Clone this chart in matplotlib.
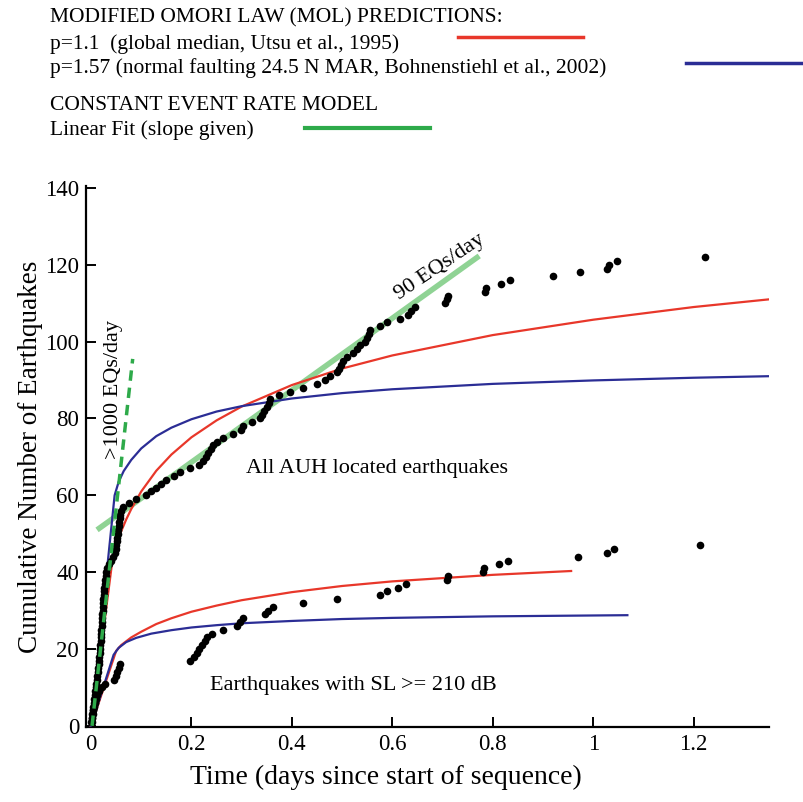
import matplotlib
matplotlib.use("Agg")
import matplotlib.pyplot as plt
from matplotlib.lines import Line2D

plt.rcParams['font.family'] = ['Liberation Serif', 'DejaVu Serif']

# ---------------- data ----------------
# All AUH located earthquakes: time (days) of each cumulative event
all_times = [0.0005, 0.001, 0.002, 0.003, 0.004, 0.005, 0.006, 0.007, 0.008, 0.009,
             0.010, 0.011, 0.012, 0.013, 0.014, 0.015, 0.016, 0.016, 0.017, 0.018,
             0.018, 0.019, 0.019, 0.020, 0.020, 0.021, 0.021, 0.022, 0.022, 0.023,
             0.023, 0.024, 0.024, 0.025, 0.025, 0.026, 0.027, 0.028, 0.029, 0.030,
             0.032, 0.036, 0.040, 0.044, 0.047, 0.049, 0.050, 0.051, 0.052, 0.053,
             0.054, 0.055, 0.056, 0.057, 0.058, 0.060, 0.064,
             0.075, 0.090, 0.110, 0.120, 0.130, 0.140, 0.150, 0.165, 0.177, 0.197,
             0.215, 0.222, 0.228, 0.232, 0.238, 0.242, 0.250, 0.263, 0.283, 0.298,
             0.303, 0.320, 0.337, 0.340, 0.345, 0.350, 0.354, 0.357, 0.375, 0.396,
             0.422, 0.450, 0.465, 0.476, 0.490, 0.493, 0.498, 0.502, 0.510, 0.522,
             0.530, 0.536, 0.545, 0.550, 0.553, 0.556, 0.575, 0.590, 0.616, 0.632,
             0.638, 0.645, 0.705, 0.708, 0.711, 0.785, 0.787, 0.817, 0.835, 0.920,
             0.974, 1.028, 1.031, 1.048, 1.223]
all_counts = list(range(1, len(all_times) + 1))

# Earthquakes with SL >= 210 dB
sl_times = [0.001, 0.002, 0.003, 0.004, 0.006, 0.008, 0.010, 0.012, 0.015, 0.022,
            0.028, 0.045, 0.049, 0.052, 0.055, 0.058,
            0.197, 0.205, 0.211, 0.216, 0.221, 0.226, 0.231, 0.241, 0.263, 0.291,
            0.297, 0.303, 0.347, 0.353, 0.363, 0.422, 0.490, 0.576, 0.590, 0.612,
            0.627, 0.709, 0.710, 0.781, 0.782, 0.813, 0.831, 0.970, 1.028, 1.042,
            1.213]
sl_counts = list(range(1, len(sl_times) + 1))

# Modified Omori law predictions
red_all_t = [0, 0.044, 0.05, 0.06, 0.07, 0.08, 0.1, 0.13, 0.16, 0.2, 0.25, 0.3,
             0.4, 0.5, 0.6, 0.8, 1.0, 1.2, 1.35]
red_all_n = [0, 44.5, 47.0, 50.6, 53.7, 56.4, 61.0, 66.4, 70.6, 75.1, 79.5, 83.1,
             88.7, 93.0, 96.4, 101.7, 105.7, 109.0, 111.0]
blue_all_t = [0, 0.047, 0.055, 0.065, 0.08, 0.1, 0.13, 0.16, 0.2, 0.25, 0.3,
              0.4, 0.5, 0.6, 0.8, 1.0, 1.2, 1.35]
blue_all_n = [0, 60.0, 63.5, 66.3, 69.2, 72.2, 75.4, 77.6, 79.8, 81.8, 83.2,
              85.2, 86.6, 87.6, 89.0, 89.9, 90.6, 91.0]
red_sl_t = [0, 0.05, 0.06, 0.08, 0.1, 0.13, 0.16, 0.2, 0.25, 0.3, 0.4, 0.5,
            0.6, 0.8, 0.956]
red_sl_n = [0, 19.5, 21.0, 23.0, 24.5, 26.5, 28.0, 29.7, 31.3, 32.7, 34.8, 36.4,
            37.6, 39.3, 40.3]
blue_sl_t = [0, 0.045, 0.055, 0.07, 0.09, 0.12, 0.16, 0.2, 0.25, 0.3, 0.4, 0.5,
             0.6, 0.8, 1.068]
blue_sl_n = [0, 18.5, 20.3, 21.8, 22.9, 24.0, 24.9, 25.6, 26.2, 26.7, 27.3, 27.8,
             28.1, 28.5, 28.8]

# Constant event rate fits
fit90_t = [0.012, 0.773]
fit90_n = [51, 122.3]
fit1000_t = [0.002, 0.083]
fit1000_n = [0, 95.5]

xticks = [0, 0.2, 0.4, 0.6, 0.8, 1, 1.2]
xticklabels = ['0', '0.2', '0.4', '0.6', '0.8', '1', '1.2']
yticks = [0, 20, 40, 60, 80, 100, 120, 140]

RED = '#e8372a'
BLUE = '#2b2d95'
GREEN_LIGHT = '#8fd394'
GREEN_DARK = '#2eaa4a'

# ---------------- figure ----------------
W, H = 804, 802
fig = plt.figure(figsize=(W / 100, H / 100), dpi=100)
ax = fig.add_axes([86 / W, 1 - 727 / H, (769 - 86) / W, (727 - 186) / H])

ax.plot(fit90_t, fit90_n, color=GREEN_LIGHT, lw=4, solid_capstyle='butt', zorder=2)
ax.plot(fit1000_t, fit1000_n, color=GREEN_DARK, lw=2.5, ls=(0, (3, 2)), zorder=4)

ax.plot(red_all_t, red_all_n, color=RED, lw=1.6, zorder=3)
ax.plot(blue_all_t, blue_all_n, color=BLUE, lw=1.6, zorder=3)
ax.plot(red_sl_t, red_sl_n, color=RED, lw=1.6, zorder=3)
ax.plot(blue_sl_t, blue_sl_n, color=BLUE, lw=1.6, zorder=3)

ax.plot(all_times, all_counts, 'o', color='black', ms=5.5, mec='none', zorder=3.5)
ax.plot(sl_times, sl_counts, 'o', color='black', ms=5.5, mec='none', zorder=3.5)

ax.set_xlim(-0.01, 1.35)
ax.set_ylim(-0.3, 140.5)
ax.set_xticks(xticks)
ax.set_xticklabels(xticklabels)
ax.set_yticks(yticks)
for s in ['top', 'right']:
    ax.spines[s].set_visible(False)
for s in ['left', 'bottom']:
    ax.spines[s].set_linewidth(1.6)
ax.tick_params(direction='in', length=7, width=1.4, labelsize=16.5, pad=5)
ax.set_xlabel('Time (days since start of sequence)', fontsize=20)
ax.set_ylabel('Cumulative Number of Earthquakes', fontsize=19.5)
# label centres in axes coordinates (reference: x-label centred at px 386, y-label at px ~32)
ax.xaxis.set_label_coords((386 - 86) / (769 - 86), -(777 - 727) / (727 - 186))
ax.yaxis.set_label_coords(-(86 - 31) / (769 - 86), 0.5)
ax.xaxis.label.set_va('center')
ax.yaxis.label.set_va('center')

ax.text(0.309, 67, 'All AUH located earthquakes', fontsize=16, va='center', ha='left')
ax.text(0.237, 10.4, 'Earthquakes with SL >= 210 dB', fontsize=16, va='center', ha='left')
ax.text(0.695, 119.5, '90 EQs/day', fontsize=16, rotation=34, ha='center', va='center')
ax.text(0.045, 87.5, '>1000 EQs/day', fontsize=16, rotation=90, ha='center', va='center')

# ---------------- header legend ----------------
def fy(y):
    return 1 - y / H

lx = 50 / W
fs = 15.5
fig.text(lx, fy(18), 'MODIFIED OMORI LAW (MOL) PREDICTIONS:', fontsize=fs, va='center')
fig.text(lx, fy(44), 'p=1.1  (global median, Utsu et al., 1995)', fontsize=fs, va='center')
fig.text(lx, fy(68), 'p=1.57 (normal faulting 24.5 N MAR, Bohnenstiehl et al., 2002)',
         fontsize=fs, va='center')
fig.text(lx, fy(105), 'CONSTANT EVENT RATE MODEL', fontsize=fs, va='center')
fig.text(lx, fy(130), 'Linear Fit (slope given)', fontsize=fs, va='center')

fig.add_artist(Line2D([458 / W, 583 / W], [fy(37), fy(37)], color=RED, lw=2.5))
fig.add_artist(Line2D([686 / W, 804 / W], [fy(63), fy(63)], color=BLUE, lw=2.5))
fig.add_artist(Line2D([305 / W, 430 / W], [fy(128), fy(128)], color=GREEN_DARK, lw=3))

fig.savefig('out.png', dpi=100)
